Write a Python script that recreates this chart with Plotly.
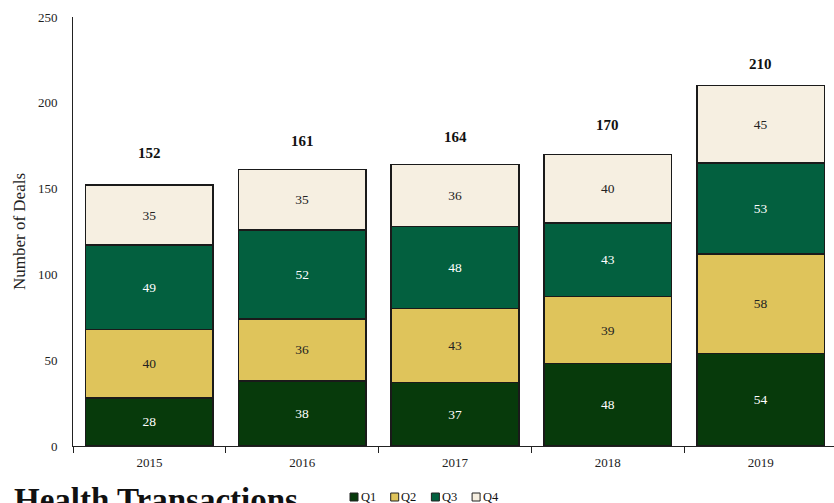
import plotly.graph_objects as go

years = ["2015", "2016", "2017", "2018", "2019"]
q1 = [28, 38, 37, 48, 54]
q2 = [40, 36, 43, 39, 58]
q3 = [49, 52, 48, 43, 53]
q4 = [35, 35, 36, 40, 45]
series_names = ["Q1", "Q2", "Q3", "Q4"]
colors = ["#073a0b", "#dfc45b", "#03603f", "#f6efe1"]
text_colors = ["white", "#222222", "white", "#222222"]
total_label_offsets = [32, 29, 28, 29, 22]

FONT = "Liberation Serif"
L, T, W, H = 73, 17, 834, 503
B = 57
PW = W - L
PH = H - T - B


def px_x(px):
    return (px - L) / PW


def px_y(py):
    return (H - B - py) / PH


fig = go.Figure()
for name, vals, col, tcol in zip(series_names, [q1, q2, q3, q4], colors, text_colors):
    fig.add_trace(go.Bar(
        x=years, y=vals, name=name,
        marker=dict(color=col, line=dict(color="#1a1a1a", width=1.5)),
        text=[str(v) for v in vals], textposition="inside",
        insidetextanchor="middle",
        textfont=dict(color=tcol, size=13.5, family=FONT),
        showlegend=False,
    ))

totals = [a + b + c + d for a, b, c, d in zip(q1, q2, q3, q4)]
for i, (t, off) in enumerate(zip(totals, total_label_offsets)):
    fig.add_annotation(x=i, y=t, text="<b>%d</b>" % t, showarrow=False,
                       yshift=off, font=dict(size=15, family=FONT, color="#111111"))

# compact legend (bottom centre)
for k, (name, col) in enumerate(zip(series_names, colors)):
    x0 = 350 + 40.7 * k
    fig.add_shape(type="rect", xref="paper", yref="paper",
                  x0=px_x(x0), x1=px_x(x0 + 8), y0=px_y(501), y1=px_y(493),
                  fillcolor=col, line=dict(color="#222222", width=1))
    fig.add_annotation(xref="paper", yref="paper", x=px_x(x0 + 8.5), y=px_y(497),
                       xanchor="left", yanchor="middle", showarrow=False,
                       text=name, font=dict(size=12.5, family=FONT, color="#111111"))

fig.add_annotation(xref="paper", yref="paper", x=px_x(12), y=px_y(480),
                   xanchor="left", yanchor="top", showarrow=False,
                   text="<b>Health Transactions</b>",
                   font=dict(size=33, family=FONT, color="#111111"))

fig.update_layout(
    barmode="stack", bargap=0.165,
    width=W, height=H,
    margin=dict(l=L, r=0, t=T, b=B, autoexpand=False),
    plot_bgcolor="white", paper_bgcolor="white",
    font=dict(family=FONT, color="#222222", size=12),
    uniformtext=dict(mode="show", minsize=13),
    showlegend=False,
)
fig.update_xaxes(type="category", range=[-0.5, 4.48], showline=True, linecolor="#222222",
                 linewidth=1, ticks="outside", tickson="boundaries", ticklen=6,
                 tickcolor="#222222", ticklabelstandoff=4, tickfont=dict(size=13, family=FONT))
fig.update_yaxes(range=[0, 250], dtick=50, showline=True, linecolor="#222222", linewidth=1,
                 showgrid=False, zeroline=False, ticks="", ticklabelstandoff=12,
                 title=dict(text="Number of Deals", font=dict(size=17, family=FONT), standoff=7),
                 tickfont=dict(size=13, family=FONT))

fig.write_html("out.html")
